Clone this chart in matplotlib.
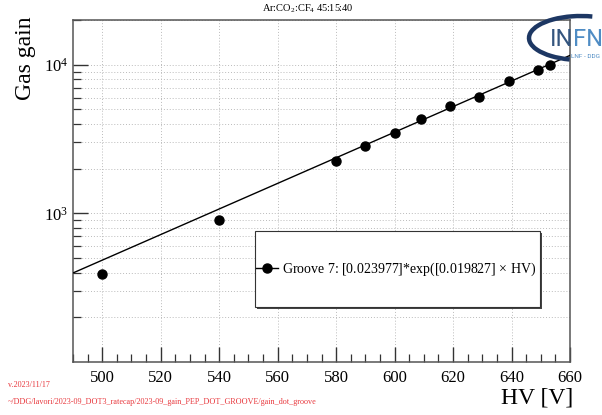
import numpy as np
import matplotlib
matplotlib.use('Agg')
import matplotlib.pyplot as plt
from matplotlib.ticker import MultipleLocator, LogLocator, FixedLocator, FixedFormatter, NullFormatter
from matplotlib.patches import Rectangle, Arc
from matplotlib.lines import Line2D

plt.rcParams['font.family'] = ['Liberation Serif', 'DejaVu Serif']
plt.rcParams['mathtext.fontset'] = 'custom'
plt.rcParams['mathtext.rm'] = 'Liberation Serif'
plt.rcParams['mathtext.it'] = 'Liberation Serif'
plt.rcParams['mathtext.bf'] = 'Liberation Serif'

# measured points (HV [V], gain)
hv = [500, 540, 580, 590, 600, 609, 619, 629, 639, 649, 653]
gain = [391, 903, 2260, 2850, 3500, 4330, 5300, 6030, 7720, 9160, 9950]

# fit parameters from the legend
p0 = 0.023977
p1 = 0.019827
label = 'Groove 7: [0.023977]*exp([0.019827] $\\times$ HV)'

W, H = 602, 415
fig = plt.figure(figsize=(W / 100, H / 100), dpi=100)
ax = fig.add_axes([73 / W, 1 - 362 / H, (570 - 73) / W, (362 - 20) / H])

xf = np.linspace(490, 660, 200)
ax.plot(xf, p0 * np.exp(p1 * xf), color='black', lw=1.0, zorder=3)
ax.plot(hv, gain, 'o', color='black', ms=6.5, zorder=4)

ax.set_xlim(490, 660)
ax.set_yscale('log')
ax.set_ylim(100, 20000)

ax.xaxis.set_major_locator(MultipleLocator(20))
ax.xaxis.set_minor_locator(MultipleLocator(5))
ax.yaxis.set_major_locator(FixedLocator([1e3, 1e4]))
ax.yaxis.set_major_formatter(FixedFormatter(['$10^{3}$', '$10^{4}$']))
ax.yaxis.set_minor_locator(LogLocator(base=10, subs=np.arange(2, 10)))
ax.yaxis.set_minor_formatter(NullFormatter())

ax.tick_params(which='both', direction='in', top=False, right=False, colors='#333333',
               labelcolor='black', labelsize=12)
ax.tick_params(which='major', length=11, width=1.0)
ax.tick_params(which='minor', length=5.5, width=0.9)
ax.tick_params(axis='x', pad=6)

ax.grid(axis='x', which='major', ls=(0, (1, 2)), color='#bbbbbb', lw=0.7)
ax.grid(axis='y', which='both', ls=(0, (1, 2)), color='#bbbbbb', lw=0.7)
for s in ax.spines.values():
    s.set_color('#555555')
    s.set_linewidth(1.1)

# legend box with shadow
bx0, by0, bx1, by1 = 255, 231, 540, 307
fig.patches.append(Rectangle(((bx0 + 2) / W, 1 - (by1 + 2) / H), (bx1 - bx0) / W, (by1 - by0) / H,
                             transform=fig.transFigure, facecolor='#444444', edgecolor='none', zorder=5))
fig.patches.append(Rectangle((bx0 / W, 1 - by1 / H), (bx1 - bx0) / W, (by1 - by0) / H,
                             transform=fig.transFigure, facecolor='white', edgecolor='#333333',
                             lw=0.8, zorder=6))
handle = Line2D([], [], color='black', marker='o', ms=6.5, lw=1.0)
leg = fig.legend([handle], [label], loc='center left', bbox_to_anchor=((bx0 + 1) / W, 1 - 269 / H),
                 frameon=False, fontsize=10, handlelength=1.6, handletextpad=0.3,
                 borderaxespad=0, borderpad=0)
leg.set_zorder(7)

fig.text(308 / W, 1 - 9 / H, 'Ar:CO$_2$:CF$_4$ 45:15:40', ha='center', va='center', fontsize=7.5)
fig.text(25 / W, 1 - 16 / H, 'Gas gain', rotation=90, ha='center', va='top', fontsize=17)
fig.text(573 / W, 1 - 398 / H, 'HV [V]', ha='right', va='center', fontsize=17)

fig.text(8 / W, 1 - 385 / H, 'v.2023/11/17', color='#e8383d', fontsize=5.9, va='center')
fig.text(8 / W, 1 - 402 / H,
         '~/DDG/lavori/2023-09_DOT3_ratecap/2023-09_gain_PEP_DOT_GROOVE/gain_dot_groove',
         color='#e8383d', fontsize=5.9, va='center')

# INFN logo
fig.patches.append(Arc((581 / W, 1 - 38 / H), 104 / W, 44 / H, theta1=70, theta2=250,
                       transform=fig.transFigure, color='#1d3763', lw=3.2, zorder=8))
fig.text(550 / W, 1 - 40 / H, 'IN', color='#34557e', fontsize=17, family='Roboto',
         ha='left', va='center', zorder=9)
fig.text(573 / W, 1 - 40 / H, 'FN', color='#4f8cc4', fontsize=17, family='Roboto',
         ha='left', va='center', zorder=9)
fig.text(600 / W, 1 - 56 / H, 'LNF - DDG', color='#4f8cc4', fontsize=4.6, family='Roboto',
         ha='right', va='center', zorder=9)

fig.savefig('out.png', dpi=100)
